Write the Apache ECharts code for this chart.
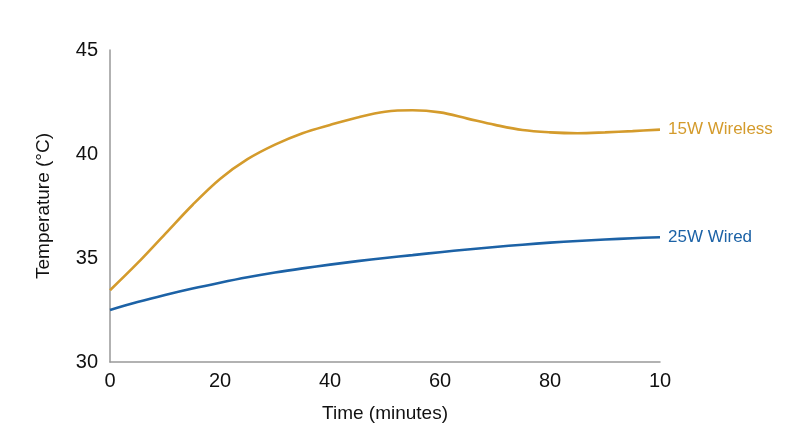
<!DOCTYPE html>
<html>
<head>
<meta charset="utf-8">
<script src="https://cdn.jsdelivr.net/npm/echarts@6/dist/echarts.min.js"></script>
<style>html,body{margin:0;padding:0;background:#fff}#c{width:800px;height:447px}</style>
</head>
<body>
<div id="c"></div>
<script>
const timeMinutes = [0, 5, 10, 15, 20, 25, 30, 35, 40, 45, 50, 55, 60, 65, 70, 75, 80, 85, 90, 95, 100];
const wireless15W = [33.45, 34.75, 36.15, 37.55, 38.8, 39.75, 40.45, 41.0, 41.4, 41.76, 42.03, 42.1, 42.0, 41.7, 41.4, 41.15, 41.04, 41.0, 41.04, 41.1, 41.17];
const wired25W   = [32.5, 32.88, 33.22, 33.53, 33.81, 34.07, 34.3, 34.5, 34.68, 34.85, 35.0, 35.14, 35.28, 35.41, 35.53, 35.64, 35.74, 35.82, 35.89, 35.95, 36.0];
const xTickLabels = {0:'0', 20:'20', 40:'40', 60:'60', 80:'80', 100:'10'};
const seriesNames = ['15W Wireless', '25W Wired'];
const colors = ['#D49B2C', '#1C62A6'];

const chart = echarts.init(document.getElementById('c'));
const font = 'Helvetica, Arial, "Liberation Sans", sans-serif';
function mk(name, vals, color) {
  return {
    name: name, type: 'line', smooth: 0.35, symbol: 'none',
    data: timeMinutes.map((t, i) => [t, vals[i]]),
    lineStyle: {color: color, width: 2.6},
    itemStyle: {color: color},
    endLabel: {show: true, formatter: name, color: color, fontSize: 17, fontFamily: font, distance: 8}
  };
}
chart.setOption({
  animation: false,
  backgroundColor: '#fff',
  grid: {left: 110, right: 140, top: 50, bottom: 85},
  xAxis: {
    type: 'value', min: 0, max: 100, interval: 20,
    name: 'Time (minutes)', nameLocation: 'middle', nameGap: 42,
    nameTextStyle: {fontSize: 19, color: '#111', fontFamily: font},
    axisLine: {show: true, lineStyle: {color: '#999', width: 1.5}},
    axisTick: {show: false}, splitLine: {show: false},
    axisLabel: {fontSize: 20, color: '#111', fontFamily: font, margin: 9,
      formatter: v => xTickLabels[v] !== undefined ? xTickLabels[v] : ''}
  },
  yAxis: {
    type: 'value', min: 30, max: 45, interval: 5,
    name: 'Temperature (°C)', nameLocation: 'middle', nameGap: 57, nameRotate: 90,
    nameTextStyle: {fontSize: 19, color: '#111', fontFamily: font},
    axisLine: {show: true, lineStyle: {color: '#999', width: 1.5}},
    axisTick: {show: false}, splitLine: {show: false},
    axisLabel: {fontSize: 20, color: '#111', fontFamily: font, margin: 12}
  },
  series: [mk(seriesNames[0], wireless15W, colors[0]), mk(seriesNames[1], wired25W, colors[1])]
});
</script>
</body>
</html>
